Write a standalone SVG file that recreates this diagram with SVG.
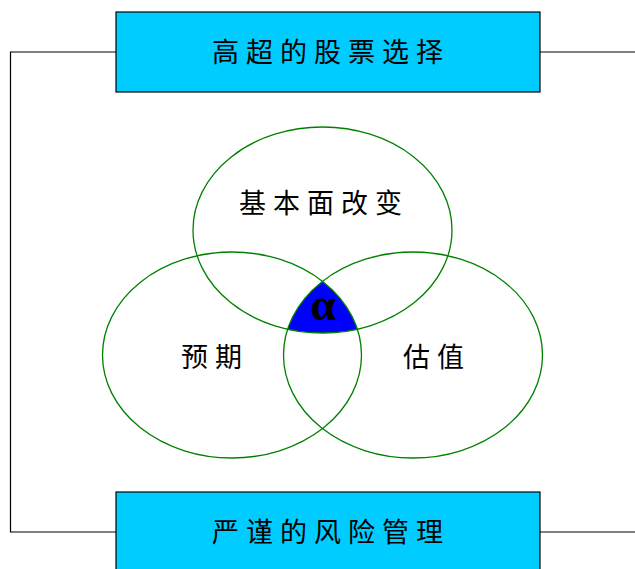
<svg xmlns="http://www.w3.org/2000/svg" width="635" height="569" viewBox="0 0 635 569">
<style>
.box{fill:#00CCFF;stroke:#000;stroke-width:1.2}
.ell{fill:none;stroke:#008000;stroke-width:1.3}
.conn{fill:none;stroke:#000;stroke-width:1.2}
.t{font-family:"Noto Sans CJK SC","Noto Sans CJK TC",sans-serif;font-size:27px;fill:#000;letter-spacing:7px}
.alpha{font-family:"Liberation Serif",serif;font-weight:bold;font-size:46px;fill:#000}
</style>
<defs>
<clipPath id="cl"><ellipse cx="232" cy="355" rx="129.5" ry="103"/></clipPath>
<clipPath id="cr"><ellipse cx="413" cy="355" rx="129.5" ry="103"/></clipPath>
</defs>
<rect width="635" height="569" fill="#fff"/>
<g id="connectors">
<path class="conn" d="M116 52H10.5V532H116"/>
<path class="conn" d="M540 52H635"/>
<path class="conn" d="M540 532H635"/>
</g>
<g id="node-top">
<rect class="box" x="116" y="12" width="424" height="80"/>
<text class="t" x="212" y="61.5">高超的股票选择</text>
</g>
<g id="node-bottom">
<rect class="box" x="116" y="492" width="424" height="90"/>
<text class="t" x="212" y="542">严谨的风险管理</text>
</g>
<g id="alpha-region">
<g clip-path="url(#cl)"><g clip-path="url(#cr)">
<ellipse cx="322.5" cy="230" rx="129.5" ry="103" fill="#0000FF"/>
</g></g>
</g>
<g id="node-fundamental">
<ellipse class="ell" cx="322.5" cy="230" rx="129.5" ry="103"/>
<text class="t" x="239" y="213">基本面改变</text>
</g>
<g id="node-expectation">
<ellipse class="ell" cx="232" cy="355" rx="129.5" ry="103"/>
<text class="t" x="181" y="367">预期</text>
</g>
<g id="node-valuation">
<ellipse class="ell" cx="413" cy="355" rx="129.5" ry="103"/>
<text class="t" x="403" y="367">估值</text>
</g>
<text class="alpha" x="323" y="320" text-anchor="middle">α</text>
</svg>
